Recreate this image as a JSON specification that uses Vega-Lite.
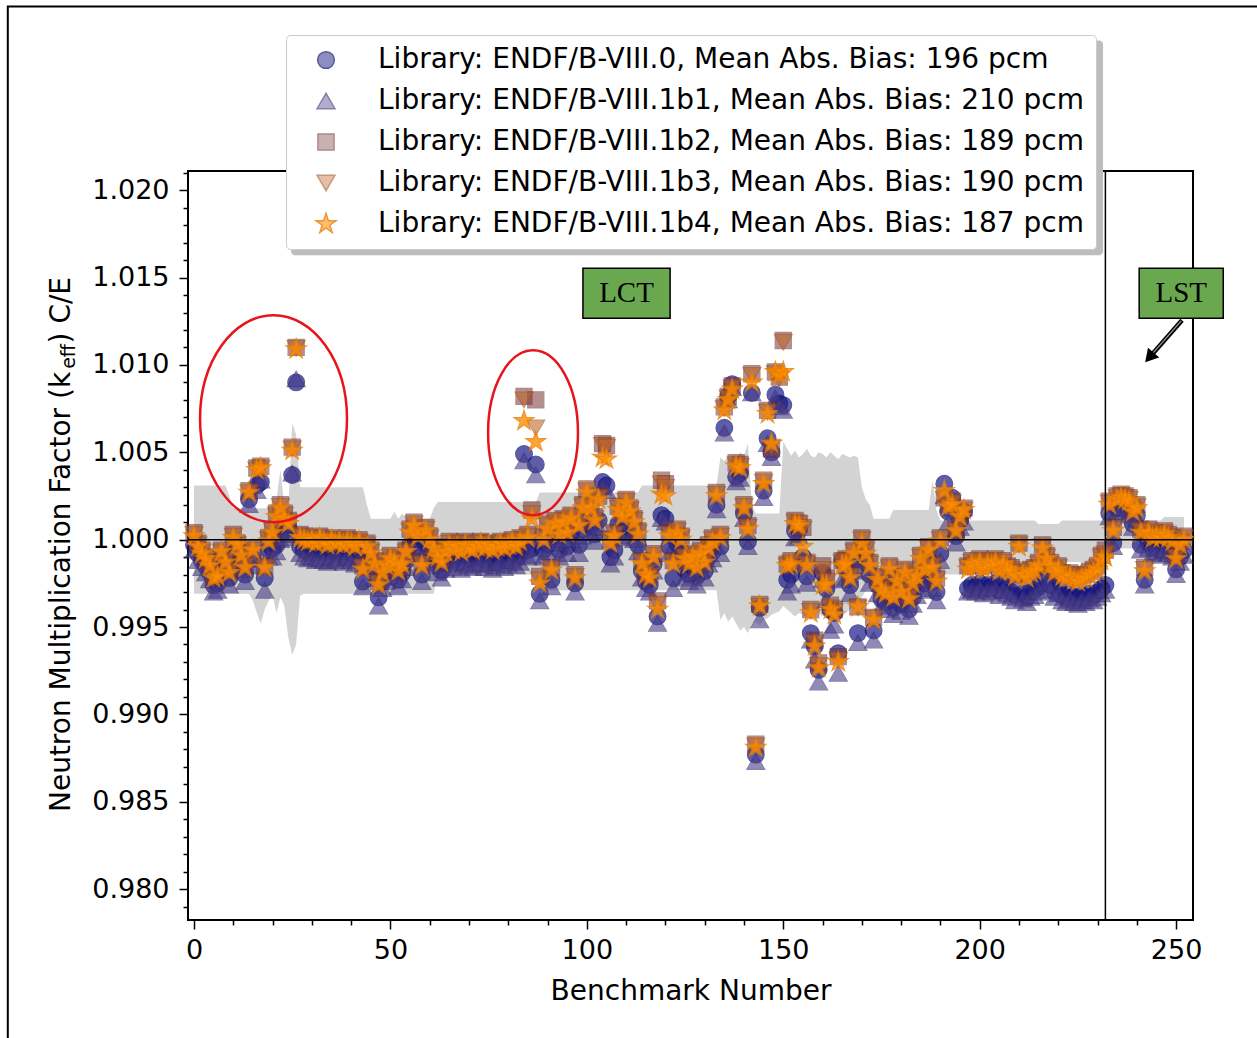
{
"$schema": "https://vega.github.io/schema/vega-lite/v6.json",
"width": 1005, "height": 749,
"autosize": {"type": "none"},
"padding": {"left": 188, "top": 171, "right": 64, "bottom": 118},
"background": "white",
"config": {
  "view": {"stroke": "black", "strokeWidth": 2},
  "font": "DejaVu Sans",
  "axis": {"labelFont": "DejaVu Sans", "titleFont": "DejaVu Sans", "labelColor": "black", "titleColor": "black", "tickColor": "black", "domain": false, "grid": false, "tickWidth": 1.5, "labelFontSize": 27, "titleFontSize": 28, "titleFontWeight": "normal"}
},
"datasets": {"one": [{}], "bench": [
{"n":0,"a":0.9997,"b":0.9994,"c":1.0004,"d":1.0003,"e":1.0002,"lo":0.9969,"hi":1.0031},
{"n":1,"a":0.9992,"b":0.9988,"c":0.9998,"d":0.9997,"e":0.9996,"lo":0.9969,"hi":1.0031},
{"n":2,"a":0.9988,"b":0.9984,"c":0.9994,"d":0.9993,"e":0.9992,"lo":0.9969,"hi":1.0031},
{"n":3,"a":0.9985,"b":0.9981,"c":0.999,"d":0.9989,"e":0.9989,"lo":0.9969,"hi":1.0031},
{"n":4,"a":0.9981,"b":0.9977,"c":0.9987,"d":0.9986,"e":0.9985,"lo":0.9969,"hi":1.0031},
{"n":5,"a":0.9974,"b":0.997,"c":0.9979,"d":0.9978,"e":0.9978,"lo":0.9969,"hi":1.0031},
{"n":6,"a":0.9975,"b":0.9971,"c":0.9981,"d":0.998,"e":0.9979,"lo":0.9969,"hi":1.0031},
{"n":7,"a":0.9989,"b":0.9985,"c":0.9994,"d":0.9993,"e":0.9993,"lo":0.9969,"hi":1.0031},
{"n":8,"a":0.9983,"b":0.9979,"c":0.9989,"d":0.9988,"e":0.9987,"lo":0.9969,"hi":1.0031},
{"n":9,"a":0.9978,"b":0.9974,"c":0.9983,"d":0.9982,"e":0.9981,"lo":0.9969,"hi":1.0025},
{"n":10,"a":0.9994,"b":0.999,"c":1.0003,"d":1.0002,"e":1.0001,"lo":0.9969,"hi":1.0018},
{"n":11,"a":0.9991,"b":0.9987,"c":0.9998,"d":0.9997,"e":0.9997,"lo":0.9969,"hi":1.0018},
{"n":12,"a":0.9987,"b":0.9983,"c":0.9993,"d":0.9992,"e":0.9991,"lo":0.9969,"hi":1.0018},
{"n":13,"a":0.998,"b":0.9976,"c":0.9986,"d":0.9985,"e":0.9984,"lo":0.9969,"hi":1.0018},
{"n":14,"a":1.0023,"b":1.002,"c":1.0028,"d":1.0027,"e":1.0027,"lo":0.9969,"hi":1.0018},
{"n":15,"a":0.9989,"b":0.9985,"c":0.9995,"d":0.9994,"e":0.9994,"lo":0.9965,"hi":1.0018},
{"n":16,"a":1.0031,"b":1.0028,"c":1.0041,"d":1.004,"e":1.004,"lo":0.9958,"hi":1.0018},
{"n":17,"a":1.0033,"b":1.0034,"c":1.0042,"d":1.0041,"e":1.0041,"lo":0.9952,"hi":1.0018},
{"n":18,"a":0.9978,"b":0.9971,"c":0.9985,"d":0.9984,"e":0.9984,"lo":0.996,"hi":1.0018},
{"n":19,"a":0.9994,"b":0.999,"c":1.0001,"d":1.0,"e":0.9999,"lo":0.9965,"hi":1.0018},
{"n":20,"a":0.9995,"b":0.999,"c":1.0006,"d":1.0005,"e":1.0004,"lo":0.9968,"hi":1.0018},
{"n":21,"a":0.9997,"b":0.9993,"c":1.0015,"d":1.0014,"e":1.0013,"lo":0.9958,"hi":1.0023},
{"n":22,"a":1.0004,"b":1.0,"c":1.002,"d":1.0019,"e":1.0018,"lo":0.9967,"hi":1.004},
{"n":23,"a":1.0005,"b":1.0001,"c":1.0015,"d":1.0014,"e":1.0012,"lo":0.9962,"hi":1.0019},
{"n":24,"a":1.0007,"b":1.0003,"c":1.0011,"d":1.001,"e":1.0009,"lo":0.9944,"hi":1.0018},
{"n":25,"a":1.0037,"b":1.0038,"c":1.0053,"d":1.0052,"e":1.0051,"lo":0.9934,"hi":1.00665},
{"n":26,"a":1.009,"b":1.0092,"c":1.011,"d":1.01095,"e":1.0109,"lo":0.994,"hi":1.006},
{"n":27,"a":0.9996,"b":0.9992,"c":1.0003,"d":1.0002,"e":1.0001,"lo":0.9968,"hi":1.003},
{"n":28,"a":0.9994,"b":0.999,"c":1.0002,"d":1.0001,"e":1.0,"lo":0.9969,"hi":1.003},
{"n":29,"a":0.9993,"b":0.9989,"c":1.0,"d":0.9999,"e":0.9999,"lo":0.9969,"hi":1.003},
{"n":30,"a":0.9995,"b":0.999,"c":1.0001,"d":1.0,"e":1.0,"lo":0.9969,"hi":1.003},
{"n":31,"a":0.9992,"b":0.9988,"c":0.9999,"d":0.9998,"e":0.9998,"lo":0.9969,"hi":1.003},
{"n":32,"a":0.9994,"b":0.9989,"c":1.0002,"d":1.0001,"e":1.0001,"lo":0.9969,"hi":1.003},
{"n":33,"a":0.9993,"b":0.9988,"c":1.0,"d":0.9999,"e":0.9999,"lo":0.9969,"hi":1.003},
{"n":34,"a":0.9991,"b":0.9987,"c":0.9998,"d":0.9997,"e":0.9997,"lo":0.9969,"hi":1.003},
{"n":35,"a":0.9994,"b":0.999,"c":1.0001,"d":1.0,"e":1.0,"lo":0.9969,"hi":1.003},
{"n":36,"a":0.9992,"b":0.9988,"c":0.9999,"d":0.9998,"e":0.9998,"lo":0.9969,"hi":1.003},
{"n":37,"a":0.9993,"b":0.9989,"c":1.0,"d":0.9999,"e":0.9999,"lo":0.9969,"hi":1.003},
{"n":38,"a":0.9991,"b":0.9987,"c":0.9998,"d":0.9997,"e":0.9997,"lo":0.9969,"hi":1.003},
{"n":39,"a":0.9994,"b":0.999,"c":1.0001,"d":1.0,"e":0.9999,"lo":0.9969,"hi":1.003},
{"n":40,"a":0.9992,"b":0.9988,"c":0.9999,"d":0.9998,"e":0.9998,"lo":0.9969,"hi":1.003},
{"n":41,"a":0.999,"b":0.9986,"c":0.9997,"d":0.9996,"e":0.9996,"lo":0.9969,"hi":1.003},
{"n":42,"a":0.9993,"b":0.9989,"c":1.0,"d":0.9999,"e":0.9999,"lo":0.9969,"hi":1.003},
{"n":43,"a":0.9976,"b":0.9973,"c":0.9985,"d":0.9984,"e":0.9983,"lo":0.9969,"hi":1.003},
{"n":44,"a":0.9991,"b":0.9987,"c":0.9998,"d":0.9997,"e":0.9996,"lo":0.9969,"hi":1.002},
{"n":45,"a":0.9988,"b":0.9984,"c":0.9994,"d":0.9993,"e":0.9992,"lo":0.9969,"hi":1.0012},
{"n":46,"a":0.9982,"b":0.9978,"c":0.9988,"d":0.9987,"e":0.9986,"lo":0.9969,"hi":1.0012},
{"n":47,"a":0.9967,"b":0.9962,"c":0.9976,"d":0.9975,"e":0.9974,"lo":0.9969,"hi":1.0012},
{"n":48,"a":0.9976,"b":0.9972,"c":0.9983,"d":0.9982,"e":0.9981,"lo":0.9969,"hi":1.0012},
{"n":49,"a":0.998,"b":0.9976,"c":0.9986,"d":0.9985,"e":0.9985,"lo":0.9969,"hi":1.0012},
{"n":50,"a":0.9985,"b":0.9981,"c":0.9991,"d":0.999,"e":0.9989,"lo":0.9969,"hi":1.0012},
{"n":51,"a":0.9983,"b":0.9979,"c":0.9989,"d":0.9988,"e":0.9987,"lo":0.9969,"hi":1.0016},
{"n":52,"a":0.9977,"b":0.9973,"c":0.9984,"d":0.9983,"e":0.9982,"lo":0.9969,"hi":1.0012},
{"n":53,"a":0.9981,"b":0.9977,"c":0.9987,"d":0.9986,"e":0.9986,"lo":0.9969,"hi":1.0015},
{"n":54,"a":0.9988,"b":0.9984,"c":0.9994,"d":0.9993,"e":0.9993,"lo":0.9969,"hi":1.0012},
{"n":55,"a":0.9997,"b":0.9993,"c":1.0006,"d":1.0005,"e":1.0004,"lo":0.9969,"hi":1.0012},
{"n":56,"a":0.9999,"b":0.9995,"c":1.001,"d":1.0009,"e":1.0008,"lo":0.9969,"hi":1.0012},
{"n":57,"a":0.9996,"b":0.9992,"c":1.0004,"d":1.0003,"e":1.0002,"lo":0.9969,"hi":1.0012},
{"n":58,"a":0.998,"b":0.9976,"c":0.9987,"d":0.9986,"e":0.9985,"lo":0.9969,"hi":1.0012},
{"n":59,"a":0.9998,"b":0.9994,"c":1.0007,"d":1.0006,"e":1.0005,"lo":0.9969,"hi":1.0012},
{"n":60,"a":0.9994,"b":0.999,"c":1.0002,"d":1.0001,"e":1.0,"lo":0.9969,"hi":1.0012},
{"n":61,"a":0.9989,"b":0.9985,"c":0.9996,"d":0.9995,"e":0.9995,"lo":0.9969,"hi":1.0018},
{"n":62,"a":0.9985,"b":0.9981,"c":0.9992,"d":0.9991,"e":0.999,"lo":0.998,"hi":1.00215},
{"n":63,"a":0.9982,"b":0.9978,"c":0.9989,"d":0.9988,"e":0.9987,"lo":0.998,"hi":1.00215},
{"n":64,"a":0.9987,"b":0.9983,"c":0.9994,"d":0.9993,"e":0.9993,"lo":0.998,"hi":1.00215},
{"n":65,"a":0.9991,"b":0.9987,"c":0.9999,"d":0.9998,"e":0.9997,"lo":0.998,"hi":1.00215},
{"n":66,"a":0.9988,"b":0.9984,"c":0.9996,"d":0.9995,"e":0.9994,"lo":0.998,"hi":1.00215},
{"n":67,"a":0.999,"b":0.9986,"c":0.9998,"d":0.9997,"e":0.9996,"lo":0.998,"hi":1.00215},
{"n":68,"a":0.9987,"b":0.9983,"c":0.9995,"d":0.9994,"e":0.9993,"lo":0.998,"hi":1.00215},
{"n":69,"a":0.9991,"b":0.9987,"c":0.9999,"d":0.9998,"e":0.9997,"lo":0.998,"hi":1.00215},
{"n":70,"a":0.9989,"b":0.9985,"c":0.9997,"d":0.9996,"e":0.9995,"lo":0.998,"hi":1.00215},
{"n":71,"a":0.9988,"b":0.9984,"c":0.9996,"d":0.9995,"e":0.9994,"lo":0.998,"hi":1.00215},
{"n":72,"a":0.999,"b":0.9986,"c":0.9998,"d":0.9997,"e":0.9996,"lo":0.998,"hi":1.00215},
{"n":73,"a":0.9991,"b":0.9987,"c":0.9999,"d":0.9998,"e":0.9998,"lo":0.998,"hi":1.00215},
{"n":74,"a":0.9988,"b":0.9984,"c":0.9996,"d":0.9995,"e":0.9995,"lo":0.998,"hi":1.00215},
{"n":75,"a":0.999,"b":0.9986,"c":0.9998,"d":0.9997,"e":0.9997,"lo":0.998,"hi":1.00215},
{"n":76,"a":0.9987,"b":0.9983,"c":0.9995,"d":0.9994,"e":0.9994,"lo":0.998,"hi":1.00215},
{"n":77,"a":0.9989,"b":0.9985,"c":0.9997,"d":0.9996,"e":0.9996,"lo":0.998,"hi":1.00215},
{"n":78,"a":0.9991,"b":0.9987,"c":0.9999,"d":0.9998,"e":0.9998,"lo":0.998,"hi":1.00215},
{"n":79,"a":0.9988,"b":0.9984,"c":0.9996,"d":0.9995,"e":0.9995,"lo":0.998,"hi":1.00215},
{"n":80,"a":0.999,"b":0.9986,"c":0.9998,"d":0.9997,"e":0.9997,"lo":0.998,"hi":1.00215},
{"n":81,"a":0.9992,"b":0.9988,"c":1.0,"d":0.9999,"e":0.9999,"lo":0.998,"hi":1.00215},
{"n":82,"a":0.9989,"b":0.9985,"c":0.9997,"d":0.9996,"e":0.9996,"lo":0.998,"hi":1.00215},
{"n":83,"a":0.9991,"b":0.9987,"c":1.0001,"d":1.0,"e":0.9999,"lo":0.998,"hi":1.00215},
{"n":84,"a":1.0049,"b":1.0045,"c":1.0082,"d":1.008,"e":1.0068,"lo":0.998,"hi":1.00215},
{"n":85,"a":0.9994,"b":0.999,"c":1.0003,"d":1.0002,"e":1.0001,"lo":0.998,"hi":1.00215},
{"n":86,"a":0.9995,"b":0.9991,"c":1.0017,"d":1.0015,"e":1.0012,"lo":0.998,"hi":1.00215},
{"n":87,"a":1.0043,"b":1.0037,"c":1.008,"d":1.0064,"e":1.0056,"lo":0.998,"hi":1.00215},
{"n":88,"a":0.9969,"b":0.9965,"c":0.9979,"d":0.9977,"e":0.9975,"lo":0.9971,"hi":1.0027},
{"n":89,"a":0.9994,"b":0.999,"c":1.0002,"d":1.0001,"e":1.0,"lo":0.9971,"hi":1.0027},
{"n":90,"a":0.9997,"b":0.9993,"c":1.0009,"d":1.0008,"e":1.0006,"lo":0.9971,"hi":1.0027},
{"n":91,"a":0.9977,"b":0.9973,"c":0.9984,"d":0.9983,"e":0.99825,"lo":0.9971,"hi":1.0027},
{"n":92,"a":1.0002,"b":0.9998,"c":1.0011,"d":1.001,"e":1.0009,"lo":0.9971,"hi":1.0027},
{"n":93,"a":0.9994,"b":0.999,"c":1.0005,"d":1.0004,"e":1.0003,"lo":0.9971,"hi":1.0027},
{"n":94,"a":1.0004,"b":1.0,"c":1.0012,"d":1.0011,"e":1.001,"lo":0.9971,"hi":1.0027},
{"n":95,"a":0.9996,"b":0.9992,"c":1.0006,"d":1.0005,"e":1.0004,"lo":0.9971,"hi":1.0027},
{"n":96,"a":1.0004,"b":1.0,"c":1.0014,"d":1.0013,"e":1.0012,"lo":0.9971,"hi":1.0027},
{"n":97,"a":0.9975,"b":0.997,"c":0.998,"d":0.9979,"e":0.9978,"lo":0.9971,"hi":1.0027},
{"n":98,"a":0.9997,"b":0.9992,"c":1.001,"d":1.0009,"e":1.0008,"lo":0.9971,"hi":1.0027},
{"n":99,"a":1.0006,"b":1.0002,"c":1.002,"d":1.0019,"e":1.0018,"lo":0.9971,"hi":1.0027},
{"n":100,"a":1.0015,"b":1.0011,"c":1.0029,"d":1.0028,"e":1.0027,"lo":0.9971,"hi":1.0027},
{"n":101,"a":1.0008,"b":1.0004,"c":1.002,"d":1.0019,"e":1.0018,"lo":0.9971,"hi":1.0027},
{"n":102,"a":1.0003,"b":0.9999,"c":1.0013,"d":1.0012,"e":1.0011,"lo":0.9971,"hi":1.0027},
{"n":103,"a":1.0011,"b":1.0007,"c":1.0025,"d":1.0024,"e":1.0023,"lo":0.9971,"hi":1.0027},
{"n":104,"a":1.0033,"b":1.003,"c":1.0055,"d":1.0054,"e":1.0047,"lo":0.9971,"hi":1.0027},
{"n":105,"a":1.0031,"b":1.0028,"c":1.0054,"d":1.0053,"e":1.0046,"lo":0.9971,"hi":1.0027},
{"n":106,"a":0.999,"b":0.9986,"c":1.0,"d":0.9999,"e":0.9998,"lo":0.9971,"hi":1.0027},
{"n":107,"a":0.9994,"b":0.999,"c":1.0004,"d":1.0003,"e":1.0002,"lo":0.9971,"hi":1.0027},
{"n":108,"a":1.0009,"b":1.0005,"c":1.0019,"d":1.0018,"e":1.0017,"lo":0.9971,"hi":1.0027},
{"n":109,"a":1.0005,"b":1.0001,"c":1.0015,"d":1.0014,"e":1.0013,"lo":0.9971,"hi":1.0027},
{"n":110,"a":1.0013,"b":1.0009,"c":1.0023,"d":1.0022,"e":1.0021,"lo":0.9971,"hi":1.0027},
{"n":111,"a":1.0006,"b":1.0002,"c":1.0018,"d":1.0017,"e":1.0016,"lo":0.9971,"hi":1.0027},
{"n":112,"a":1.0004,"b":1.0,"c":1.0012,"d":1.0011,"e":1.001,"lo":0.9971,"hi":1.0027},
{"n":113,"a":0.9997,"b":0.9993,"c":1.0005,"d":1.0004,"e":1.0003,"lo":0.9971,"hi":1.0027},
{"n":114,"a":0.9982,"b":0.9978,"c":0.9988,"d":0.9987,"e":0.9986,"lo":0.9971,"hi":1.0031},
{"n":115,"a":0.9976,"b":0.9972,"c":0.9982,"d":0.9981,"e":0.998,"lo":0.9971,"hi":1.0031},
{"n":116,"a":0.9974,"b":0.997,"c":0.998,"d":0.9979,"e":0.9978,"lo":0.9971,"hi":1.0031},
{"n":117,"a":0.9986,"b":0.9982,"c":0.9992,"d":0.9991,"e":0.999,"lo":0.9971,"hi":1.0031},
{"n":118,"a":0.9956,"b":0.9952,"c":0.9965,"d":0.9963,"e":0.996,"lo":0.9971,"hi":1.0031},
{"n":119,"a":1.0014,"b":1.0012,"c":1.0034,"d":1.0032,"e":1.0026,"lo":0.9971,"hi":1.0031},
{"n":120,"a":1.0012,"b":1.001,"c":1.0032,"d":1.003,"e":1.0025,"lo":0.9971,"hi":1.0031},
{"n":121,"a":0.9996,"b":0.9992,"c":1.0004,"d":1.0003,"e":1.0002,"lo":0.9971,"hi":1.0031},
{"n":122,"a":0.9978,"b":0.9972,"c":0.9988,"d":0.9987,"e":0.9986,"lo":0.9971,"hi":1.0031},
{"n":123,"a":0.9998,"b":0.9994,"c":1.0006,"d":1.0005,"e":1.0004,"lo":0.9971,"hi":1.0031},
{"n":124,"a":0.9993,"b":0.9989,"c":1.0002,"d":1.0001,"e":1.0,"lo":0.9971,"hi":1.0031},
{"n":125,"a":0.9983,"b":0.9978,"c":0.9991,"d":0.999,"e":0.9989,"lo":0.9971,"hi":1.0031},
{"n":126,"a":0.998,"b":0.9976,"c":0.9988,"d":0.9987,"e":0.9986,"lo":0.9971,"hi":1.0031},
{"n":127,"a":0.9985,"b":0.9981,"c":0.9992,"d":0.9991,"e":0.999,"lo":0.9971,"hi":1.0031},
{"n":128,"a":0.9979,"b":0.9974,"c":0.9986,"d":0.9985,"e":0.9984,"lo":0.9971,"hi":1.0031},
{"n":129,"a":0.9987,"b":0.9983,"c":0.9994,"d":0.9993,"e":0.9992,"lo":0.9971,"hi":1.0031},
{"n":130,"a":0.9982,"b":0.9978,"c":0.9989,"d":0.9988,"e":0.9987,"lo":0.9971,"hi":1.0031},
{"n":131,"a":0.999,"b":0.9986,"c":0.9997,"d":0.9996,"e":0.9995,"lo":0.9971,"hi":1.0031},
{"n":132,"a":0.9993,"b":0.9989,"c":1.0001,"d":1.0,"e":0.9999,"lo":0.9971,"hi":1.0031},
{"n":133,"a":1.002,"b":1.0017,"c":1.0027,"d":1.0026,"e":1.0025,"lo":0.9971,"hi":1.0031},
{"n":134,"a":0.9996,"b":0.9992,"c":1.0003,"d":1.0002,"e":1.0001,"lo":0.9954,"hi":1.0047},
{"n":135,"a":1.0064,"b":1.0061,"c":1.0076,"d":1.0075,"e":1.0074,"lo":0.9958,"hi":1.0045},
{"n":136,"a":1.0082,"b":1.008,"c":1.0082,"d":1.0081,"e":1.008,"lo":0.9953,"hi":1.0048},
{"n":137,"a":1.0089,"b":1.0087,"c":1.0088,"d":1.0087,"e":1.0086,"lo":0.9956,"hi":1.0042},
{"n":138,"a":1.0036,"b":1.0033,"c":1.0044,"d":1.0043,"e":1.0042,"lo":0.9952,"hi":1.0046},
{"n":139,"a":1.0038,"b":1.0035,"c":1.0043,"d":1.0042,"e":1.0041,"lo":0.9948,"hi":1.005},
{"n":140,"a":1.0015,"b":1.0012,"c":1.002,"d":1.0019,"e":1.0018,"lo":0.995,"hi":1.0048},
{"n":141,"a":0.9999,"b":0.9996,"c":1.0008,"d":1.0007,"e":1.0006,"lo":0.99465,"hi":1.0055},
{"n":142,"a":1.0084,"b":1.0084,"c":1.0095,"d":1.0094,"e":1.009,"lo":0.9952,"hi":1.002},
{"n":143,"a":0.9877,"b":0.9873,"c":0.9883,"d":0.9882,"e":0.9881,"lo":0.9953,"hi":1.0015},
{"n":144,"a":0.9961,"b":0.9954,"c":0.9963,"d":0.9962,"e":0.9962,"lo":0.9951,"hi":1.0015},
{"n":145,"a":1.0028,"b":1.0024,"c":1.0034,"d":1.0033,"e":1.0032,"lo":0.9954,"hi":1.0015},
{"n":146,"a":1.0058,"b":1.0055,"c":1.0074,"d":1.0073,"e":1.0072,"lo":0.9955,"hi":1.0015},
{"n":147,"a":1.005,"b":1.0047,"c":1.0052,"d":1.0053,"e":1.0055,"lo":0.9957,"hi":1.0015},
{"n":148,"a":1.0083,"b":1.0081,"c":1.0096,"d":1.0095,"e":1.0096,"lo":0.9958,"hi":1.0015},
{"n":149,"a":1.0078,"b":1.0076,"c":1.0093,"d":1.0092,"e":1.0094,"lo":0.9959,"hi":1.0015},
{"n":150,"a":1.0077,"b":1.0074,"c":1.0114,"d":1.0113,"e":1.0096,"lo":0.9962,"hi":1.0056},
{"n":151,"a":0.9977,"b":0.997,"c":0.9986,"d":0.9985,"e":0.9985,"lo":0.996,"hi":1.0052},
{"n":152,"a":0.998,"b":0.9974,"c":0.9988,"d":0.9987,"e":0.9986,"lo":0.9958,"hi":1.0048},
{"n":153,"a":1.0005,"b":1.0001,"c":1.0011,"d":1.001,"e":1.0009,"lo":0.9956,"hi":1.0051},
{"n":154,"a":1.00055,"b":1.0002,"c":1.00095,"d":1.0009,"e":1.0008,"lo":0.9958,"hi":1.0047},
{"n":155,"a":0.999,"b":0.9986,"c":1.0007,"d":1.0006,"e":0.9996,"lo":0.9957,"hi":1.0049},
{"n":156,"a":0.9979,"b":0.9975,"c":0.9987,"d":0.9986,"e":0.9985,"lo":0.9955,"hi":1.0052},
{"n":157,"a":0.99465,"b":0.99425,"c":0.996,"d":0.9959,"e":0.9958,"lo":0.9957,"hi":1.0048},
{"n":158,"a":0.9939,"b":0.9931,"c":0.99425,"d":0.9941,"e":0.9939,"lo":0.996,"hi":1.0047},
{"n":159,"a":0.99255,"b":0.99185,"c":0.99295,"d":0.9928,"e":0.99265,"lo":0.9958,"hi":1.005},
{"n":160,"a":0.9981,"b":0.9977,"c":0.9985,"d":0.9983,"e":0.9974,"lo":0.9956,"hi":1.0049},
{"n":161,"a":0.9972,"b":0.99655,"c":0.9978,"d":0.9976,"e":0.9974,"lo":0.9957,"hi":1.0047},
{"n":162,"a":0.996,"b":0.9948,"c":0.99625,"d":0.9961,"e":0.996,"lo":0.9959,"hi":1.005},
{"n":163,"a":0.9958,"b":0.9951,"c":0.996,"d":0.9959,"e":0.9957,"lo":0.9961,"hi":1.0048},
{"n":164,"a":0.9935,"b":0.99235,"c":0.9933,"d":0.9931,"e":0.993,"lo":0.9958,"hi":1.0046},
{"n":165,"a":0.9988,"b":0.9977,"c":0.9988,"d":0.9987,"e":0.9985,"lo":0.9956,"hi":1.0049},
{"n":166,"a":0.9983,"b":0.9978,"c":0.9989,"d":0.9988,"e":0.9986,"lo":0.9958,"hi":1.0048},
{"n":167,"a":0.9974,"b":0.9969,"c":0.998,"d":0.9979,"e":0.9978,"lo":0.996,"hi":1.0047},
{"n":168,"a":0.9988,"b":0.9983,"c":0.9994,"d":0.9993,"e":0.9992,"lo":0.9962,"hi":1.0048},
{"n":169,"a":0.99465,"b":0.9941,"c":0.99615,"d":0.9961,"e":0.99615,"lo":0.9963,"hi":1.0047},
{"n":170,"a":0.9992,"b":0.9987,"c":1.0001,"d":1.0,"e":0.9998,"lo":0.9967,"hi":1.003},
{"n":171,"a":0.9987,"b":0.9982,"c":0.9995,"d":0.9994,"e":0.9992,"lo":0.9971,"hi":1.0023},
{"n":172,"a":0.998,"b":0.9975,"c":0.9987,"d":0.9986,"e":0.9985,"lo":0.9972,"hi":1.002},
{"n":173,"a":0.9948,"b":0.99425,"c":0.99555,"d":0.9955,"e":0.9954,"lo":0.9972,"hi":1.0012},
{"n":174,"a":0.9974,"b":0.9969,"c":0.9979,"d":0.9978,"e":0.9977,"lo":0.9972,"hi":1.0012},
{"n":175,"a":0.9966,"b":0.9962,"c":0.9973,"d":0.9972,"e":0.9971,"lo":0.9972,"hi":1.0012},
{"n":176,"a":0.9964,"b":0.996,"c":0.9971,"d":0.997,"e":0.9969,"lo":0.9972,"hi":1.0012},
{"n":177,"a":0.9978,"b":0.9974,"c":0.9985,"d":0.9984,"e":0.9983,"lo":0.9972,"hi":1.0012},
{"n":178,"a":0.9961,"b":0.9957,"c":0.9969,"d":0.9968,"e":0.9967,"lo":0.9972,"hi":1.0017},
{"n":179,"a":0.997,"b":0.9966,"c":0.9978,"d":0.9977,"e":0.9976,"lo":0.9972,"hi":1.0017},
{"n":180,"a":0.9963,"b":0.9959,"c":0.9972,"d":0.9971,"e":0.997,"lo":0.9972,"hi":1.0017},
{"n":181,"a":0.9975,"b":0.9971,"c":0.9983,"d":0.9982,"e":0.9981,"lo":0.9975,"hi":1.0017},
{"n":182,"a":0.996,"b":0.9956,"c":0.9968,"d":0.9967,"e":0.9966,"lo":0.9975,"hi":1.0017},
{"n":183,"a":0.9967,"b":0.9963,"c":0.9977,"d":0.9976,"e":0.9975,"lo":0.9975,"hi":1.0017},
{"n":184,"a":0.9972,"b":0.9968,"c":0.9981,"d":0.998,"e":0.9979,"lo":0.9975,"hi":1.0017},
{"n":185,"a":0.9981,"b":0.9977,"c":0.9991,"d":0.999,"e":0.9989,"lo":0.9975,"hi":1.0017},
{"n":186,"a":0.9975,"b":0.9971,"c":0.9985,"d":0.9984,"e":0.9983,"lo":0.9975,"hi":1.0017},
{"n":187,"a":0.9988,"b":0.9984,"c":0.9996,"d":0.9995,"e":0.9994,"lo":0.9975,"hi":1.0017},
{"n":188,"a":0.9976,"b":0.9972,"c":0.9986,"d":0.9985,"e":0.9984,"lo":0.9975,"hi":1.0034},
{"n":189,"a":0.997,"b":0.9965,"c":0.9978,"d":0.9977,"e":0.9976,"lo":0.9975,"hi":1.0017},
{"n":190,"a":0.9992,"b":0.9988,"c":1.0001,"d":1.0,"e":0.9999,"lo":0.9975,"hi":1.0011},
{"n":191,"a":1.0032,"b":1.0025,"c":1.0024,"d":1.0023,"e":1.0028,"lo":0.998,"hi":1.0011},
{"n":192,"a":1.0016,"b":1.001,"c":1.002,"d":1.0019,"e":1.0019,"lo":0.998,"hi":1.0011},
{"n":193,"a":1.0024,"b":1.0018,"c":1.0022,"d":1.0021,"e":1.002,"lo":0.998,"hi":1.0011},
{"n":194,"a":1.0002,"b":0.9998,"c":1.0006,"d":1.0005,"e":1.0005,"lo":0.998,"hi":1.0011},
{"n":195,"a":1.0011,"b":1.0007,"c":1.0015,"d":1.0014,"e":1.0013,"lo":0.998,"hi":1.0011},
{"n":196,"a":1.0016,"b":1.001,"c":1.0018,"d":1.0017,"e":1.0017,"lo":0.998,"hi":1.0011},
{"n":197,"a":0.9972,"b":0.997,"c":0.9985,"d":0.9984,"e":0.9983,"lo":0.998,"hi":1.0011},
{"n":198,"a":0.9974,"b":0.9971,"c":0.9988,"d":0.9987,"e":0.9986,"lo":0.998,"hi":1.0011},
{"n":199,"a":0.9973,"b":0.997,"c":0.9986,"d":0.9985,"e":0.9984,"lo":0.998,"hi":1.0011},
{"n":200,"a":0.9975,"b":0.9972,"c":0.9989,"d":0.9988,"e":0.9987,"lo":0.998,"hi":1.0011},
{"n":201,"a":0.9972,"b":0.9969,"c":0.9985,"d":0.9984,"e":0.9983,"lo":0.9986,"hi":1.0011},
{"n":202,"a":0.9974,"b":0.9971,"c":0.9988,"d":0.9987,"e":0.9986,"lo":0.9986,"hi":1.0011},
{"n":203,"a":0.9973,"b":0.997,"c":0.9987,"d":0.9986,"e":0.9985,"lo":0.9986,"hi":1.0011},
{"n":204,"a":0.9975,"b":0.9972,"c":0.9989,"d":0.9988,"e":0.9987,"lo":0.9986,"hi":1.0011},
{"n":205,"a":0.9971,"b":0.9968,"c":0.9984,"d":0.9983,"e":0.9982,"lo":0.9986,"hi":1.0011},
{"n":206,"a":0.9974,"b":0.9971,"c":0.9988,"d":0.9987,"e":0.9986,"lo":0.9986,"hi":1.0011},
{"n":207,"a":0.9972,"b":0.9969,"c":0.9985,"d":0.9984,"e":0.9983,"lo":0.9986,"hi":1.0011},
{"n":208,"a":0.997,"b":0.9967,"c":0.9984,"d":0.9983,"e":0.9982,"lo":0.9986,"hi":1.0011},
{"n":209,"a":0.9968,"b":0.9965,"c":0.9981,"d":0.998,"e":0.9979,"lo":0.9986,"hi":1.0011},
{"n":210,"a":0.998,"b":0.9977,"c":0.9998,"d":0.9997,"e":0.9996,"lo":0.9986,"hi":1.0011},
{"n":211,"a":0.9969,"b":0.9966,"c":0.9982,"d":0.9981,"e":0.998,"lo":0.9986,"hi":1.0011},
{"n":212,"a":0.9967,"b":0.9964,"c":0.998,"d":0.9979,"e":0.9978,"lo":0.9986,"hi":1.0011},
{"n":213,"a":0.997,"b":0.9967,"c":0.9983,"d":0.9982,"e":0.9981,"lo":0.9986,"hi":1.0011},
{"n":214,"a":0.9971,"b":0.9968,"c":0.9984,"d":0.9983,"e":0.9982,"lo":0.9986,"hi":1.0011},
{"n":215,"a":0.9973,"b":0.997,"c":0.9987,"d":0.9986,"e":0.9985,"lo":0.9986,"hi":1.0009},
{"n":216,"a":0.9985,"b":0.9982,"c":0.9997,"d":0.9996,"e":0.9995,"lo":0.9986,"hi":1.0009},
{"n":217,"a":0.9978,"b":0.9975,"c":0.9991,"d":0.999,"e":0.9989,"lo":0.9986,"hi":1.0009},
{"n":218,"a":0.9974,"b":0.9971,"c":0.9987,"d":0.9986,"e":0.9985,"lo":0.9986,"hi":1.0009},
{"n":219,"a":0.997,"b":0.9967,"c":0.9983,"d":0.9982,"e":0.9981,"lo":0.9986,"hi":1.0009},
{"n":220,"a":0.9972,"b":0.9969,"c":0.9985,"d":0.9984,"e":0.9983,"lo":0.9986,"hi":1.0009},
{"n":221,"a":0.9968,"b":0.9965,"c":0.9981,"d":0.998,"e":0.9979,"lo":0.9987,"hi":1.0011},
{"n":222,"a":0.9967,"b":0.9964,"c":0.998,"d":0.9979,"e":0.9978,"lo":0.9987,"hi":1.0011},
{"n":223,"a":0.9969,"b":0.9966,"c":0.9981,"d":0.998,"e":0.9979,"lo":0.9987,"hi":1.0011},
{"n":224,"a":0.9967,"b":0.9964,"c":0.9979,"d":0.9978,"e":0.9977,"lo":0.9987,"hi":1.0011},
{"n":225,"a":0.9966,"b":0.9963,"c":0.9978,"d":0.9977,"e":0.9976,"lo":0.9987,"hi":1.0011},
{"n":226,"a":0.9968,"b":0.9965,"c":0.998,"d":0.9979,"e":0.9978,"lo":0.9987,"hi":1.0011},
{"n":227,"a":0.9967,"b":0.9964,"c":0.998,"d":0.9979,"e":0.9978,"lo":0.9987,"hi":1.0011},
{"n":228,"a":0.9969,"b":0.9966,"c":0.9982,"d":0.9981,"e":0.998,"lo":0.9988,"hi":1.0011},
{"n":229,"a":0.9968,"b":0.9965,"c":0.9983,"d":0.9982,"e":0.9981,"lo":0.9988,"hi":1.0011},
{"n":230,"a":0.997,"b":0.9967,"c":0.9985,"d":0.9984,"e":0.9983,"lo":0.9988,"hi":1.0011},
{"n":231,"a":0.9972,"b":0.9969,"c":0.9991,"d":0.999,"e":0.9988,"lo":0.9988,"hi":1.0011},
{"n":232,"a":0.9974,"b":0.9971,"c":0.9994,"d":0.9992,"e":0.999,"lo":0.9988,"hi":1.0011},
{"n":233,"a":1.0015,"b":1.0013,"c":1.0022,"d":1.0021,"e":1.002,"lo":0.9995,"hi":1.0011},
{"n":234,"a":0.9998,"b":0.9996,"c":1.0007,"d":1.0006,"e":1.0005,"lo":0.9995,"hi":1.0011},
{"n":235,"a":1.0018,"b":1.0016,"c":1.0025,"d":1.0024,"e":1.0023,"lo":0.9995,"hi":1.0011},
{"n":236,"a":1.002,"b":1.0018,"c":1.0026,"d":1.0025,"e":1.0024,"lo":0.9995,"hi":1.0011},
{"n":237,"a":1.0017,"b":1.0015,"c":1.0025,"d":1.0024,"e":1.0023,"lo":0.9995,"hi":1.0011},
{"n":238,"a":1.0016,"b":1.0014,"c":1.0024,"d":1.0023,"e":1.0022,"lo":0.9995,"hi":1.0011},
{"n":239,"a":1.0009,"b":1.0007,"c":1.0018,"d":1.0017,"e":1.0016,"lo":0.9995,"hi":1.0011},
{"n":240,"a":1.0014,"b":1.0012,"c":1.002,"d":1.0019,"e":1.0018,"lo":0.9995,"hi":1.0011},
{"n":241,"a":0.9997,"b":0.9994,"c":1.0006,"d":1.0005,"e":1.0004,"lo":0.9995,"hi":1.0011},
{"n":242,"a":0.9977,"b":0.9974,"c":0.9984,"d":0.9983,"e":0.9982,"lo":0.9995,"hi":1.0011},
{"n":243,"a":0.9998,"b":0.9995,"c":1.0006,"d":1.0005,"e":1.0004,"lo":0.9995,"hi":1.0011},
{"n":244,"a":0.9995,"b":0.9992,"c":1.0003,"d":1.0002,"e":1.0001,"lo":0.9995,"hi":1.0011},
{"n":245,"a":0.9996,"b":0.9993,"c":1.0004,"d":1.0003,"e":1.0002,"lo":0.9995,"hi":1.0011},
{"n":246,"a":0.9994,"b":0.9991,"c":1.0003,"d":1.0002,"e":1.0001,"lo":0.9995,"hi":1.0011},
{"n":247,"a":0.9997,"b":0.9994,"c":1.0005,"d":1.0004,"e":1.0003,"lo":0.9995,"hi":1.0013},
{"n":248,"a":0.9995,"b":0.9992,"c":1.0003,"d":1.0002,"e":1.0001,"lo":0.9995,"hi":1.0013},
{"n":249,"a":0.9993,"b":0.999,"c":1.0001,"d":1.0,"e":0.9999,"lo":0.9995,"hi":1.0013},
{"n":250,"a":0.9983,"b":0.998,"c":0.9991,"d":0.999,"e":0.9989,"lo":0.9995,"hi":1.0013},
{"n":251,"a":0.999,"b":0.9987,"c":0.9999,"d":0.9998,"e":0.9997,"lo":0.9995,"hi":1.0013},
{"n":252,"a":0.9994,"b":0.9991,"c":1.0002,"d":1.0001,"e":1.0,"lo":0.9995,"hi":1.0013}
]},
"layer": [
{
  "data": {"name": "one"},
  "mark": {"type": "rect", "fillOpacity": 0, "stroke": "black", "strokeWidth": 2},
  "encoding": {
    "x": {"datum": -47.4, "type": "quantitative", "scale": {"domain": [-1.53, 254.3], "nice": false, "zero": false}, "axis": null},
    "x2": {"datum": 274},
    "y": {"datum": 0.97108, "type": "quantitative", "scale": {"domain": [0.97823, 1.0211], "nice": false, "zero": false}, "axis": null},
    "y2": {"datum": 1.03052}
  }
},
{
  "data": {"name": "one"},
  "mark": {"type": "rect", "fill": "#bdbdbd", "cornerRadius": 4},
  "encoding": {
    "x": {"datum": 24.7, "type": "quantitative", "axis": null},
    "x2": {"datum": 231.4},
    "y": {"datum": 1.016276, "type": "quantitative", "axis": null},
    "y2": {"datum": 1.028576}
  }
},
{
  "data": {"name": "bench"},
  "mark": {"type": "area", "color": "#d3d3d3", "opacity": 1},
  "encoding": {
    "x": {"field": "n", "type": "quantitative", "scale": {"domain": [-1.53, 254.3], "nice": false, "zero": false},
      "axis": {"orient": "bottom", "values": [0, 50, 100, 150, 200, 250], "tickSize": 9, "labelPadding": 8, "title": "Benchmark Number", "titlePadding": 14}},
    "y": {"field": "lo", "type": "quantitative", "scale": {"domain": [0.97823, 1.0211], "nice": false, "zero": false},
      "axis": {"orient": "left", "values": [0.98, 0.985, 0.99, 0.995, 1.0, 1.005, 1.01, 1.015, 1.02], "format": ".3f", "tickSize": 9, "labelPadding": 10, "title": null}},
    "y2": {"field": "hi"}
  }
},
{
  "data": {"name": "bench"},
  "transform": [{"fold": ["a", "b", "c", "d", "e"], "as": ["lib", "k"]}],
  "mark": {"type": "point", "filled": true, "strokeWidth": 1.2},
  "encoding": {
    "x": {"field": "n", "type": "quantitative", "axis": null},
    "y": {"field": "k", "type": "quantitative", "axis": null},
    "order": {"field": "lib", "sort": "ascending"},
    "color": {"field": "lib", "type": "nominal",
      "scale": {"domain": ["a", "b", "c", "d", "e"], "range": ["#1a1a88", "#483d8b", "#7a3535", "#c0682a", "#ff8c00"]},
      "legend": {"orient": "none", "legendX": 98, "legendY": -136, "title": null, "direction": "vertical",
        "labelExpr": "datum.label == 'a' ? 'Library: ENDF/B-VIII.0, Mean Abs. Bias: 196 pcm' : datum.label == 'b' ? 'Library: ENDF/B-VIII.1b1, Mean Abs. Bias: 210 pcm' : datum.label == 'c' ? 'Library: ENDF/B-VIII.1b2, Mean Abs. Bias: 189 pcm' : datum.label == 'd' ? 'Library: ENDF/B-VIII.1b3, Mean Abs. Bias: 190 pcm' : 'Library: ENDF/B-VIII.1b4, Mean Abs. Bias: 187 pcm'",
        "labelFont": "DejaVu Sans", "labelFontSize": 28, "labelColor": "black", "labelLimit": 2000,
        "symbolSize": 150, "symbolOpacity": 0.6, "fillColor": "white", "strokeColor": "#cccccc",
        "padding": 11, "rowPadding": 13, "labelOffset": 38, "symbolOffset": 15, "cornerRadius": 4}},
    "shape": {"field": "lib", "type": "nominal",
      "scale": {"domain": ["a", "b", "c", "d", "e"], "range": ["circle", "triangle-up", "square", "triangle-down", "M0,-1L0.2245,-0.309L0.9511,-0.309L0.3633,0.118L0.5878,0.809L0,0.382L-0.5878,0.809L-0.3633,0.118L-0.9511,-0.309L-0.2245,-0.309Z"]},
      "legend": {"orient": "none", "legendX": 98, "legendY": -136, "title": null}},
    "stroke": {"field": "lib", "type": "nominal",
      "scale": {"domain": ["a", "b", "c", "d", "e"], "range": ["#12126e", "#3a2f70", "#6a2a2a", "#a05520", "#e67e00"]}, "legend": null},
    "opacity": {"field": "lib", "type": "nominal",
      "scale": {"type": "ordinal", "domain": ["a", "b", "c", "d", "e"], "range": [0.7, 0.6, 0.55, 0.6, 0.8]}, "legend": null},
    "size": {"field": "lib", "type": "nominal",
      "scale": {"type": "ordinal", "domain": ["a", "b", "c", "d", "e"], "range": [280, 320, 260, 320, 440]}, "legend": null}
  }
},
{
  "data": {"name": "one"},
  "mark": {"type": "rule", "color": "black", "strokeWidth": 1.5},
  "encoding": {
    "y": {"datum": 1.0, "type": "quantitative",
      "axis": {"orient": "left", "values": [0.979, 0.981, 0.982, 0.983, 0.984, 0.986, 0.987, 0.988, 0.989, 0.991, 0.992, 0.993, 0.994, 0.996, 0.997, 0.998, 0.999, 1.001, 1.002, 1.003, 1.004, 1.006, 1.007, 1.008, 1.009, 1.011, 1.012, 1.013, 1.014, 1.016, 1.017, 1.018, 1.019, 1.021], "labels": false, "tickSize": 5, "title": null}}
  }
},
{
  "data": {"name": "one"},
  "mark": {"type": "rule", "color": "black", "strokeWidth": 1.5},
  "encoding": {
    "x": {"datum": 232, "type": "quantitative",
      "axis": {"orient": "bottom", "values": [10, 20, 30, 40, 60, 70, 80, 90, 110, 120, 130, 140, 160, 170, 180, 190, 210, 220, 230, 240], "labels": false, "tickSize": 5, "title": null}}
  }
},
{
  "data": {"name": "one"},
  "mark": {"type": "point", "filled": false, "color": "#e8141c", "strokeWidth": 2.5, "opacity": 1, "size": 42849,
    "shape": "M0,-1C0.392,-1,0.71,-0.5523,0.71,0C0.71,0.5523,0.392,1,0,1C-0.392,1,-0.71,0.5523,-0.71,0C-0.71,-0.5523,-0.392,-1,0,-1Z"},
  "encoding": {
    "x": {"datum": 20.24, "type": "quantitative", "axis": null},
    "y": {"datum": 1.006922, "type": "quantitative", "axis": null}
  }
},
{
  "data": {"name": "one"},
  "mark": {"type": "point", "filled": false, "color": "#e8141c", "strokeWidth": 2.5, "opacity": 1, "size": 27225,
    "shape": "M0,-1C0.301,-1,0.545,-0.5523,0.545,0C0.545,0.5523,0.301,1,0,1C-0.301,1,-0.545,0.5523,-0.545,0C-0.545,-0.5523,-0.301,-1,0,-1Z"},
  "encoding": {
    "x": {"datum": 86.3, "type": "quantitative", "axis": null},
    "y": {"datum": 1.006121, "type": "quantitative", "axis": null}
  }
},
{
  "data": {"name": "one"},
  "mark": {"type": "rect", "fill": "#6aa84f", "stroke": "black", "strokeWidth": 1.5},
  "encoding": {
    "x": {"datum": 99.0, "type": "quantitative", "axis": null},
    "x2": {"datum": 121.2},
    "y": {"datum": 1.012672, "type": "quantitative", "axis": null},
    "y2": {"datum": 1.015532}
  }
},
{
  "data": {"name": "one"},
  "mark": {"type": "rect", "fill": "#6aa84f", "stroke": "black", "strokeWidth": 1.5},
  "encoding": {
    "x": {"datum": 240.6, "type": "quantitative", "axis": null},
    "x2": {"datum": 262.0},
    "y": {"datum": 1.012672, "type": "quantitative", "axis": null},
    "y2": {"datum": 1.015532}
  }
},
{
  "data": {"name": "one"},
  "mark": {"type": "text", "text": "LCT", "font": "Liberation Serif", "fontSize": 29, "color": "black", "align": "center", "baseline": "middle"},
  "encoding": {
    "x": {"datum": 110.1, "type": "quantitative", "axis": null},
    "y": {"datum": 1.0141, "type": "quantitative", "axis": null}
  }
},
{
  "data": {"name": "one"},
  "mark": {"type": "text", "text": "LST", "font": "Liberation Serif", "fontSize": 29, "color": "black", "align": "center", "baseline": "middle"},
  "encoding": {
    "x": {"datum": 251.3, "type": "quantitative", "axis": null},
    "y": {"datum": 1.0141, "type": "quantitative", "axis": null}
  }
},
{
  "data": {"name": "one"},
  "mark": {"type": "rule", "color": "black", "strokeWidth": 4.5},
  "encoding": {
    "x": {"datum": 251.5, "type": "quantitative", "axis": null},
    "y": {"datum": 1.01256, "type": "quantitative", "axis": null},
    "x2": {"datum": 243.2},
    "y2": {"datum": 1.01043}
  }
},
{
  "data": {"name": "one"},
  "mark": {"type": "rule", "color": "#9a9a9a", "strokeWidth": 1.3},
  "encoding": {
    "x": {"datum": 251.3, "type": "quantitative", "axis": null},
    "y": {"datum": 1.01252, "type": "quantitative", "axis": null},
    "x2": {"datum": 244.0},
    "y2": {"datum": 1.01065}
  }
},
{
  "data": {"name": "one"},
  "mark": {"type": "point", "shape": "triangle-up", "filled": true, "color": "black", "opacity": 1, "size": 220, "angle": 221},
  "encoding": {
    "x": {"datum": 243.2, "type": "quantitative", "axis": null},
    "y": {"datum": 1.01043, "type": "quantitative", "axis": null}
  }
},
{
  "data": {"name": "one"},
  "mark": {"type": "text", "text": "Neutron Multiplication Factor (k", "font": "DejaVu Sans", "fontSize": 28, "color": "black", "angle": 270, "align": "left", "baseline": "middle"},
  "encoding": {
    "x": {"datum": -33.6, "type": "quantitative", "axis": null},
    "y": {"datum": 0.98441, "type": "quantitative", "axis": null}
  }
},
{
  "data": {"name": "one"},
  "mark": {"type": "text", "text": "eff", "font": "DejaVu Sans", "fontSize": 19, "color": "black", "angle": 270, "align": "left", "baseline": "middle"},
  "encoding": {
    "x": {"datum": -31.9, "type": "quantitative", "axis": null},
    "y": {"datum": 1.009777, "type": "quantitative", "axis": null}
  }
},
{
  "data": {"name": "one"},
  "mark": {"type": "text", "text": ") C/E", "font": "DejaVu Sans", "fontSize": 28, "color": "black", "angle": 270, "align": "left", "baseline": "middle"},
  "encoding": {
    "x": {"datum": -33.6, "type": "quantitative", "axis": null},
    "y": {"datum": 1.01123, "type": "quantitative", "axis": null}
  }
}
],
"resolve": {"axis": {"x": "independent", "y": "independent"}}
}
